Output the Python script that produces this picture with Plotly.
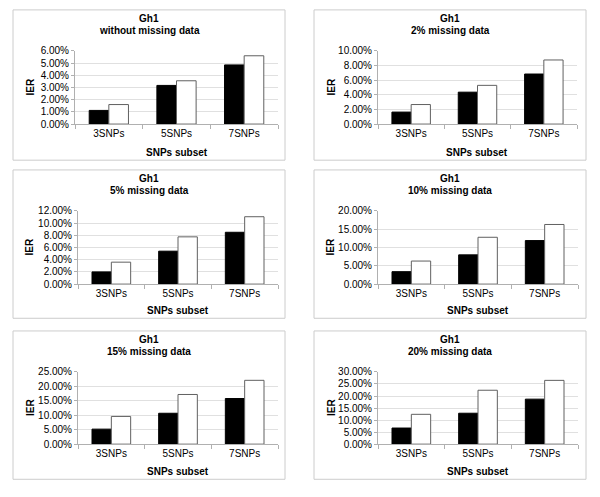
import plotly.graph_objects as go

W, H = 600, 497

categories = ["3SNPs", "5SNPs", "7SNPs"]
panel_titles = ["without missing data", "2% missing data", "5% missing data",
                "10% missing data", "15% missing data", "20% missing data"]
series_black = [
    [1.12, 3.17, 4.85],
    [1.64, 4.36, 6.84],
    [2.00, 5.40, 8.50],
    [3.40, 8.00, 11.90],
    [5.20, 10.70, 15.80],
    [6.70, 12.85, 18.70],
]
series_white = [
    [1.60, 3.55, 5.60],
    [2.67, 5.29, 8.76],
    [3.60, 7.75, 11.05],
    [6.30, 12.80, 16.30],
    [9.60, 17.20, 22.10],
    [12.40, 22.40, 26.50],
]
y_max = [6, 10, 12, 20, 25, 30]
y_step = [1, 2, 2, 5, 5, 5]

# layout in pixels
panel_x = [(13, 285), (314, 586)]
panel_y = [(4, 158), (168, 320), (333, 485)]
plot_x = [[(75, 278), (378, 577)], [(78, 278), (378, 578)], [(78, 278), (378, 578)]]
plot_y = [(46, 121), (210, 285), (375, 449)]

def px(x):
    return x / W

def py(y):
    return 1 - y / H

FONT = "Liberation Sans, Arial, sans-serif"
AXC = "#b0b0b0"

fig = go.Figure()
shapes = []
annotations = []

for i in range(6):
    r, c = divmod(i, 2)
    n = i + 1
    xa = "x" if n == 1 else f"x{n}"
    ya = "y" if n == 1 else f"y{n}"
    fig.add_trace(go.Bar(x=categories, y=series_black[i], xaxis=xa, yaxis=ya,
                         marker=dict(color="black", line=dict(color="black", width=1)),
                         showlegend=False))
    fig.add_trace(go.Bar(x=categories, y=series_white[i], xaxis=xa, yaxis=ya,
                         marker=dict(color="white", line=dict(color="#606060", width=1)),
                         showlegend=False))
    x0, x1 = plot_x[r][c]
    y0, y1 = plot_y[r]
    xkey = "xaxis" if n == 1 else f"xaxis{n}"
    ykey = "yaxis" if n == 1 else f"yaxis{n}"
    fig.layout[xkey] = dict(domain=[px(x0), px(x1)], anchor=ya,
                            showline=True, linecolor=AXC, linewidth=1,
                            ticks="outside", tickson="boundaries", ticklen=4, tickcolor=AXC,
                            tickfont=dict(family=FONT, size=10, color="black"),
                            showgrid=False, fixedrange=True)
    fig.layout[ykey] = dict(domain=[py(y1), py(y0)], anchor=xa,
                            range=[0, y_max[i]], dtick=y_step[i],
                            tickformat=".2f", ticksuffix="%",
                            showline=True, linecolor=AXC, linewidth=1,
                            ticks="outside", ticklen=3, tickcolor=AXC,
                            showgrid=True, gridcolor="#e0e0e0", gridwidth=1,
                            zeroline=False,
                            tickfont=dict(family=FONT, size=10, color="black"),
                            fixedrange=True)
    # panel border
    bx0, bx1 = panel_x[c]
    by0, by1 = panel_y[r]
    shapes.append(dict(type="rect", xref="paper", yref="paper",
                       x0=px(bx0), x1=px(bx1), y0=py(by1), y1=py(by0),
                       line=dict(color="#cccccc", width=1)))
    cx = (bx0 + bx1) / 2
    annotations.append(dict(text="<b>Gh1</b>", x=px(cx), y=py(by0 + 9), xref="paper", yref="paper",
                            showarrow=False, xanchor="center", yanchor="middle",
                            font=dict(family=FONT, size=10, color="black")))
    annotations.append(dict(text=f"<b>{panel_titles[i]}</b>", x=px(cx), y=py(by0 + 21),
                            xref="paper", yref="paper", showarrow=False,
                            xanchor="center", yanchor="middle",
                            font=dict(family=FONT, size=10, color="black")))
    annotations.append(dict(text="<b>SNPs subset</b>", x=px((x0 + x1) / 2), y=py(by1 - 8),
                            xref="paper", yref="paper", showarrow=False,
                            xanchor="center", yanchor="middle",
                            font=dict(family=FONT, size=10, color="black")))
    annotations.append(dict(text="<b>IER</b>", x=px(bx0 + 17), y=py((y0 + y1) / 2),
                            xref="paper", yref="paper", showarrow=False, textangle=-90,
                            xanchor="center", yanchor="middle",
                            font=dict(family=FONT, size=10, color="black")))

fig.update_layout(width=W, height=H, margin=dict(l=0, r=0, t=0, b=0),
                  paper_bgcolor="white", plot_bgcolor="white",
                  barmode="group", bargap=0.42, bargroupgap=0,
                  shapes=shapes, annotations=annotations, showlegend=False)

fig.write_html("out.html", config={"displayModeBar": False},
               post_script="document.body.style.margin='0';document.body.style.overflow='hidden';")
